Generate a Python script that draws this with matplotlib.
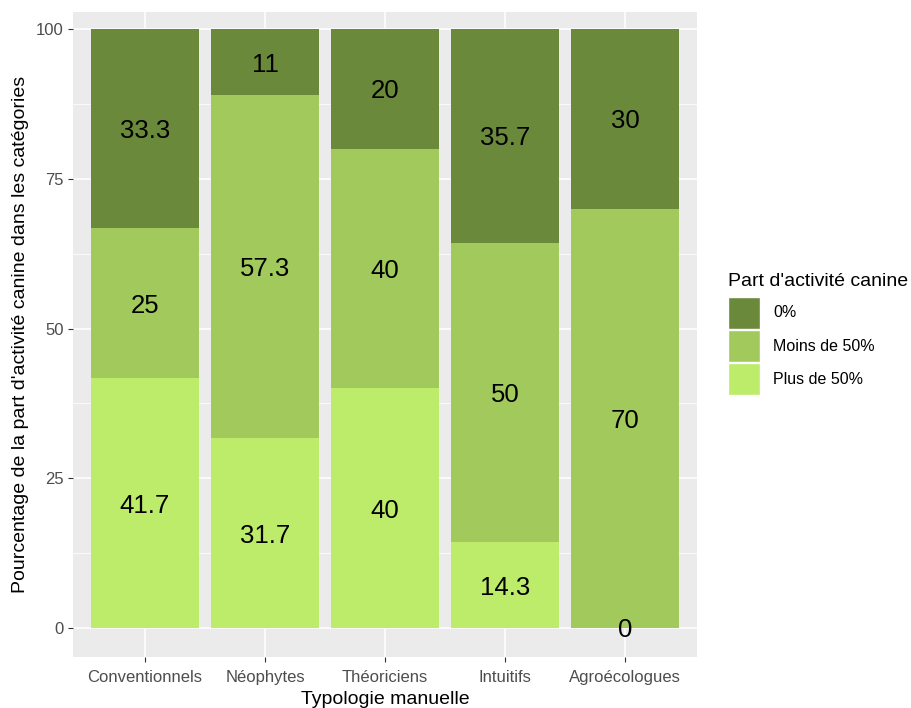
import numpy as np
import matplotlib
matplotlib.use("Agg")
import matplotlib.pyplot as plt
from matplotlib.patches import Patch

plt.rcParams["font.family"] = ["Liberation Sans", "DejaVu Sans"]

# Données
typologies = ["Conventionnels", "Néophytes", "Théoriciens", "Intuitifs", "Agroécologues"]
plus_50 = [41.7, 31.7, 40, 14.3, 0]
moins_50 = [25, 57.3, 40, 50, 70]
zero = [33.3, 11, 20, 35.7, 30]

categories = ["0%", "Moins de 50%", "Plus de 50%"]
couleurs = {"0%": "#6B893B", "Moins de 50%": "#A2C95C", "Plus de 50%": "#BDEB6A"}

fig = plt.figure(figsize=(9.11, 7.08), dpi=100)
ax = fig.add_axes([73 / 911, 51 / 708, 624 / 911, 645 / 708])
ax.set_facecolor("#EBEBEB")

x = np.arange(1, len(typologies) + 1)

# Empilement : Plus de 50% en bas, puis Moins de 50%, puis 0%
series = [("Plus de 50%", plus_50), ("Moins de 50%", moins_50), ("0%", zero)]
bas = np.zeros(len(typologies))
for nom, valeurs in series:
    valeurs = np.array(valeurs, dtype=float)
    ax.bar(x, valeurs, bottom=bas, width=0.9, color=couleurs[nom], zorder=3)
    for xi, b, v in zip(x, bas, valeurs):
        ax.text(xi, b + v / 2, f"{v:g}", ha="center", va="center_baseline",
                fontsize=18.5, color="black", zorder=4)
    bas = bas + valeurs

# Axes
ax.set_xlim(0.4, 5.6)
ax.set_ylim(-4.85, 102.85)
ax.set_yticks([0, 25, 50, 75, 100])
ax.set_yticks([12.5, 37.5, 62.5, 87.5], minor=True)
ax.set_xticks(x)
ax.set_xticklabels(typologies)
ax.grid(which="major", color="white", linewidth=1.1, zorder=0)
ax.grid(which="minor", axis="y", color="white", linewidth=0.55, zorder=0)
ax.set_axisbelow(True)
for s in ax.spines.values():
    s.set_visible(False)
ax.tick_params(which="major", length=3.5, color="#333333", labelcolor="#4D4D4D",
               labelsize=12, pad=3)
ax.tick_params(axis="x", pad=6)
ax.tick_params(which="minor", length=0)

ax.set_xlabel("Typologie manuelle", fontsize=14, labelpad=4)
ax.set_ylabel("Pourcentage de la part d'activité canine dans les catégories",
              fontsize=14, labelpad=5)

# Légende
poignees = [Patch(facecolor=couleurs[c], edgecolor="white", linewidth=1) for c in categories]
leg = fig.legend(poignees, categories, title="Part d'activité canine",
                 loc="upper left", bbox_to_anchor=(722 / 911, 1 - 267 / 708),
                 frameon=False, fontsize=11.5, title_fontsize=14,
                 handlelength=2.0, handleheight=2.7, labelspacing=0.08,
                 handletextpad=0.8, borderaxespad=0)
leg._legend_box.align = "left"
leg._legend_box.sep = 4.5  # espace entre titre et clés

fig.savefig("out.png", dpi=100)
